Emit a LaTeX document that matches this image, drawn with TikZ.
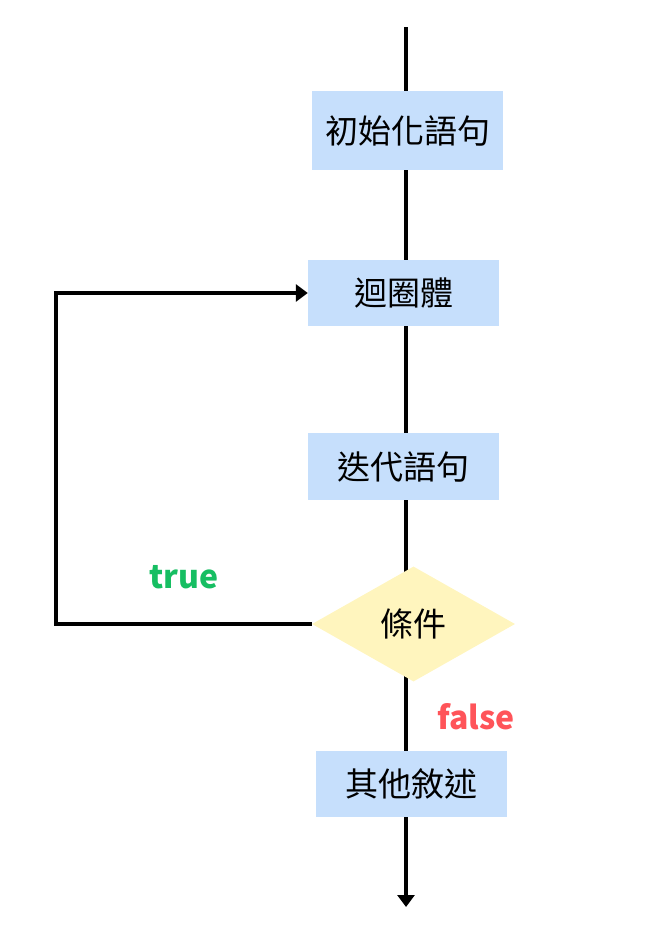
\documentclass[tikz,border=0pt]{standalone}
\usepackage{fontspec}
\setmainfont{Noto Sans CJK TC}
\usetikzlibrary{arrows.meta,shapes.geometric}
\definecolor{boxblue}{HTML}{C6DFFC}
\definecolor{condyellow}{HTML}{FFF5BE}
\definecolor{truegreen}{HTML}{16BE62}
\definecolor{falsered}{HTML}{FF5459}

\begin{document}
\begin{tikzpicture}[x=1pt,y=-1pt]
\tikzset{stepbox/.style={fill=boxblue,minimum width=191pt,inner sep=0pt,font=\fontsize{33}{36}\selectfont},
  condbox/.style={diamond,fill=condyellow,minimum width=203pt,minimum height=115pt,inner sep=0pt,aspect=1.77,font=\fontsize{33}{36}\selectfont},
  flow/.style={line width=3.5pt,-{Triangle[width=17pt,length=12pt]}},
  tflabel/.style={font=\fontsize{32}{36}\selectfont\bfseries}}
\useasboundingbox (0,0) rectangle (670,927);
% main line
\coordinate (top) at (406,27);
\coordinate (bot) at (406,907);
\draw [flow] (top) -- (bot);
% steps
\node [stepbox,minimum height=79pt] (init) at (407.5,130.5) {初始化語句};
\node [stepbox,minimum height=66pt] (body) at (403.5,293) {迴圈體};
\node [stepbox,minimum height=67pt] (iter) at (403.5,466.5) {迭代語句};
\node [condbox] (cond) at (413.5,624) {條件};
\node [stepbox,minimum height=66pt] (rest) at (411.5,784) {其他敘述};
% loop back
\coordinate (corner) at (56,620);
\draw [flow] (cond.west) -- (cond.west -| corner) |- (body.west);
\node [tflabel,text=truegreen] (truelbl) at (184,577) {true};
\node [tflabel,text=falsered] (falselbl) at (476,717) {false};
\end{tikzpicture}
\end{document}
